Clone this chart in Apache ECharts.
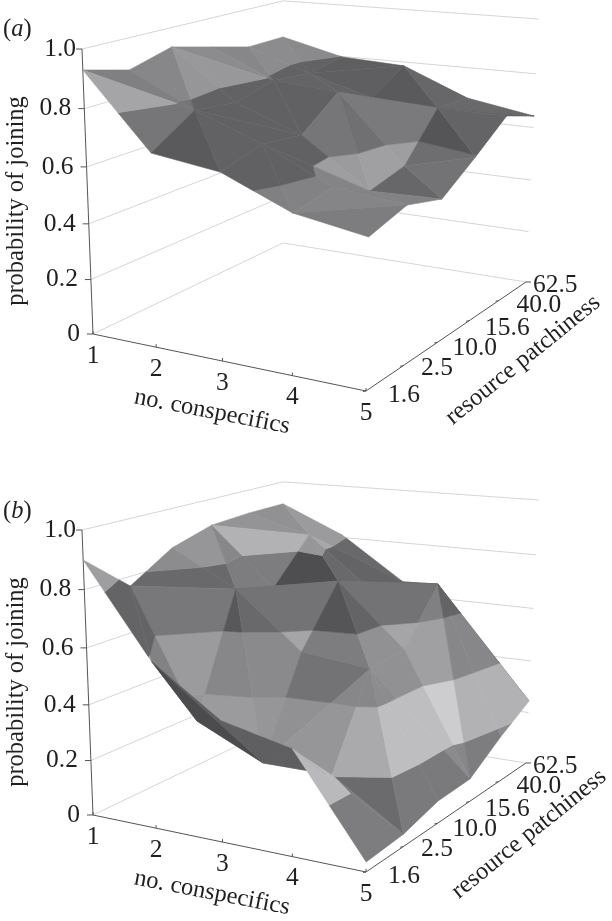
<!DOCTYPE html>
<html><head><meta charset="utf-8">
<style>html,body{margin:0;padding:0;background:#fff}#c{width:612px;height:921px}</style>
<script src="https://cdn.jsdelivr.net/npm/echarts@6/dist/echarts.min.js"></script>
</head><body><div id="c"></div>
<script>
const conspecifics = ['1','2','3','4','5'];
const patchiness = ['1.6','2.5','10.0','15.6','40.0','62.5'];
const probTicks = [0,0.2,0.4,0.6,0.8,1.0];
const probLabels = ['0','0.2','0.4','0.6','0.8','1.0'];
// joining probability: one row per no. conspecifics, one column per patchiness level
const joiningA = [
 [.93,.889,.931,.893,.855,.857],
 [.678,.775,.755,.79,.775,.798],
 [.646,.686,.666,.772,.705,.785],
 [.546,.572,.5,.532,.694,.685],
 [.506,.546,.506,.595,.691,.643]
];
const joiningB = [
 [.9,.766,.859,.903,.912,.913],
 [.584,.315,.735,.692,.849,.81],
 [.42,.204,.538,.743,.66,.649],
 [.365,.205,.51,.522,.712,.52],
 [.034,.044,.081,.085,.172,.245]
];
// cells whose split runs along the other diagonal
const flippedA = [[0,0],[1,0],[0,1],[1,1],[0,2],[1,2],[0,3],[3,2]];
const flippedB = [];
// facet greys: "cell i,j,triangle:band" -> grey
const shadeA = {
 '0,0,0:4':165,'0,0,0:3':118,'0,0,1:4':128,'0,0,1:3':118,
 '1,0,0:3':90,'1,0,1:3':98,
 '0,1,0:4':135,'0,1,1:4':150,'0,1,1:3':98,
 '1,1,0:3':97,'1,1,1:3':97,
 '0,2,0:4':152,'0,2,0:3':98,'0,2,1:4':140,
 '0,3,0:4':135,'0,3,1:4':140,'0,3,1:3':98,
 '0,4,0:4':140,'0,4,0:3':98,'0,4,1:4':138,'0,4,1:3':98,
 '1,3,0:3':100,'1,3,1:3':100,
 '1,4,0:3':95,'1,4,1:3':95,
 '1,2,0:3':97,'1,2,1:3':97,
 '2,4,0:3':90,'2,4,1:3':103,
 '2,3,0:3':122,'2,3,0:2':158,'2,3,1:3':98,
 '2,2,0:3':118,'2,2,0:2':155,'2,2,1:3':112,'2,2,1:2':160,
 '2,1,0:3':97,'2,1,0:2':132,'2,1,1:3':97,'2,1,1:2':158,
 '2,0,0:3':97,'2,0,0:2':128,'2,0,1:3':97,'2,0,1:2':130,
 '3,0,0:2':125,'3,0,1:2':133,
 '3,1,0:2':130,'3,1,1:2':130,
 '3,2,0:2':103,'3,2,0:3':103,'3,2,1:2':115,'3,2,1:3':115,
 '3,3,0:3':85,'3,3,0:2':110,'3,3,1:3':100,'3,3,1:2':110,
 '3,4,0:3':98,'3,4,1:3':105
};
const shadeB = {
 '0,0,0:4':158,'0,0,0:3':100,'0,0,1:3':100,'0,0,1:2':130,
 '0,1,0:3':120,'0,1,0:2':155,'0,1,0:1':150,'0,1,1:4':140,'0,1,1:3':105,
 '0,2,0:4':150,'0,2,0:3':105,'0,2,1:4':135,'0,2,1:3':125,
 '0,3,0:4':178,'0,3,0:3':125,'0,3,1:4':148,
 '0,4,0:4':145,'0,4,1:4':155,
 '1,0,0':95,'1,0,1':75,
 '1,1,0:3':88,'1,1,0:2':135,'1,1,0:1':155,'1,1,1:3':105,'1,1,1:2':138,'1,1,1:1':150,
 '1,2,0:3':115,'1,2,0:2':165,'1,2,1:3':112,
 '1,3,0:3':78,'1,3,0:4':150,'1,3,1:3':105,'1,3,1:4':150,
 '1,4,0:3':100,'1,4,1:4':155,'1,4,1:3':105,
 '2,1,0:2':135,'2,1,0:1':150,'2,1,0:0':105,'2,1,1:2':115,'2,1,1:1':145,'2,1,1:0':105,
 '2,2,0:3':85,'2,2,0:2':125,'2,2,1:3':100,'2,2,1:2':145,
 '2,3,0:3':115,'2,3,0:2':165,'2,3,1:3':105,
 '2,4,0:3':100,'2,4,1:3':105,
 '3,0,0:1':185,'3,0,0:0':125,'3,0,1:1':185,'3,0,1:0':125,
 '3,1,0:2':135,'3,1,0:1':170,'3,1,0:0':107,'3,1,1:2':140,'3,1,1:1':190,'3,1,1:0':122,
 '3,2,0:2':140,'3,2,0:1':190,'3,2,0:0':122,'3,2,1:2':145,'3,2,1:1':190,
 '3,3,0:3':128,'3,3,0:2':160,'3,3,0:1':205,'3,3,0:0':135,'3,3,1:3':100,'3,3,1:2':135,'3,3,1:1':178,'3,3,1:0':125,
 '3,4,0:3':100,'3,4,0:2':135,'3,4,0:1':178
};

const P0=[93,334],PU=[366,391],PV=[283,243],PW=[82,49];
const C=[-0.098,0.188,-0.055];
const A1=[PU[0]*(1+C[0])-P0[0],PU[1]*(1+C[0])-P0[1]];
const A2=[PV[0]*(1+C[1])-P0[0],PV[1]*(1+C[1])-P0[1]];
const A3=[PW[0]*(1+C[2])-P0[0],PW[1]*(1+C[2])-P0[1]];
function proj(u,v,w){
  const d=1+C[0]*u+C[1]*v+C[2]*w;
  return [(P0[0]+A1[0]*u+A2[0]*v+A3[0]*w)/d,(P0[1]+A1[1]*u+A2[1]*v+A3[1]*w)/d];
}
const BAND=0.2;
const bandMul=[1.0,1.45,1.3,1.05,1.35];
function clipBand(poly,lo,hi){
  function cut(ps,lim,keepAbove){
    const out=[];
    for(let k=0;k<ps.length;k++){
      const a=ps[k],b=ps[(k+1)%ps.length];
      const ia=keepAbove?a[2]>=lim:a[2]<=lim, ib=keepAbove?b[2]>=lim:b[2]<=lim;
      if(ia) out.push(a);
      if(ia!==ib){const t=(lim-a[2])/(b[2]-a[2]);out.push([a[0]+t*(b[0]-a[0]),a[1]+t*(b[1]-a[1]),lim]);}
    }
    return out;
  }
  return cut(cut(poly,lo,true),hi,false);
}
function shade(tri,band,fix){
  const [a,b,c]=tri;
  const ux=b[0]-a[0],uy=b[1]-a[1],uz=b[2]-a[2],vx=c[0]-a[0],vy=c[1]-a[1],vz=c[2]-a[2];
  let nx=uy*vz-uz*vy,ny=uz*vx-ux*vz,nz=ux*vy-uy*vx;
  const s=nz<0?-1:1;nx*=s;ny*=s;nz*=s;
  const len=Math.hypot(nx,ny,nz);nx/=len;ny/=len;nz/=len;
  const pa=proj(...a),pb=proj(...b),pc=proj(...c);
  const sc=(pb[0]-pa[0])*(pc[1]-pa[1])-(pb[1]-pa[1])*(pc[0]-pa[0]);
  const uvc=ux*vy-uy*vx;
  const under=(sc*uvc)>0;
  let g;
  if(fix!==undefined) g=fix;
  else if(under) g=95;
  else g=Math.max(78,60+80*nx+20*nz)*bandMul[band];
  g=Math.round(Math.min(208,g));
  return `rgb(${g},${g},${g+2})`;
}
function buildPieces(Z,flip,fixes){
  const out=[];
  for(let j=4;j>=0;j--)for(let i=0;i<4;i++){
    const p=(a,b)=>[a/4,b/5,Z[a][b]];
    const main=((i+j)%2===1)!==flip.some(f=>f[0]===i&&f[1]===j);
    const tris=main?[[p(i,j),p(i+1,j),p(i+1,j+1)],[p(i,j),p(i+1,j+1),p(i,j+1)]]
                   :[[p(i,j),p(i+1,j),p(i,j+1)],[p(i+1,j),p(i+1,j+1),p(i,j+1)]];
    const tagged=tris.map((t,k)=>({t,key:i+','+j+','+k}));
    const depth=t=>t[0][0]+t[1][0]+t[2][0]-t[0][1]-t[1][1]-t[2][1];
    tagged.sort((s,r)=>depth(s.t)-depth(r.t));
    for(const o of tagged)for(let b=0;b<5;b++){
      const poly=clipBand(o.t,b*BAND,(b+1)*BAND);
      const fix=fixes[o.key+':'+b]!==undefined?fixes[o.key+':'+b]:fixes[o.key];
      if(poly.length>=3) out.push({poly,color:shade(o.t,b,fix)});
    }
  }
  return out;
}
const SERIF='"Liberation Serif","Times New Roman",serif';
const FS=24.5,TFS=25.5;
const GRID='#d6d6d6',AX='#555558',TXT='#231f20';
function lines(){
  const grid=[],ax=[];
  for(const t of probTicks){grid.push([[0,0,t],[0,1,t],[1,1,t]]);}
  ax.push([[0,0,0],[0,0,1]]);ax.push([[0,0,0],[1,0,0]]);ax.push([[1,0,0],[1,1,0]]);
  return {grid,ax};
}
const L=lines();
function surfaceSeries(Z,flip,fixes,idx){
  const pieces=buildPieces(Z,flip,fixes);
  return {type:'custom',coordinateSystem:'cartesian2d',xAxisIndex:idx,yAxisIndex:idx,z:3,clip:false,silent:true,animation:false,
    data:pieces.map((_,k)=>[k]),
    renderItem(params,api){
      const pc=pieces[api.value(0)];
      return {type:'polygon',shape:{points:pc.poly.map(q=>api.coord(proj(...q)))},
        style:{fill:pc.color,stroke:pc.color,lineWidth:0.6}};
    }};
}
function frameSeries(idx){
  const items=[];
  L.grid.forEach(g=>items.push({pts:g,c:GRID}));
  L.ax.forEach(g=>items.push({pts:g,c:AX}));
  return {type:'custom',coordinateSystem:'cartesian2d',xAxisIndex:idx,yAxisIndex:idx,z:2,clip:false,silent:true,animation:false,
    data:items.map((_,k)=>[k]),
    renderItem(params,api){
      const it=items[api.value(0)];
      return {type:'polyline',shape:{points:it.pts.map(q=>api.coord(proj(...q)))},
        style:{fill:null,stroke:it.c,lineWidth:1}};
    }};
}
function tickSeries(idx){
  const items=[];
  probTicks.forEach(t=>items.push({q:[0,0,t],d:[-6,0]}));
  conspecifics.forEach((_,i)=>items.push({q:[i/4,0,0],d:[0,-3]}));
  patchiness.forEach((_,j)=>items.push({q:[1,j/5,0],d:j===5?[5,0]:[-3,0.5]}));
  return {type:'custom',coordinateSystem:'cartesian2d',xAxisIndex:idx,yAxisIndex:idx,z:4,clip:false,silent:true,animation:false,
    data:items.map((_,k)=>[k]),
    renderItem(params,api){
      const it=items[api.value(0)];
      const p=proj(...it.q);
      return {type:'polyline',shape:{points:[api.coord(p),api.coord([p[0]+it.d[0],p[1]+it.d[1]])]},
        style:{fill:null,stroke:AX,lineWidth:1}};
    }};
}
const rOff=[[22,4],[18,3],[15,6],[16,8],[18,5],[7,3]];
function textSeries(idx,panelLetter,labelDy,rt){
  const items=[];
  probTicks.forEach((t,k)=>{const p=proj(0,0,t);items.push({x:p[0]-(k===5?6:13),y:p[1],t:probLabels[k],al:'right',fs:TFS});});
  conspecifics.forEach((c,i)=>{const p=proj(i/4,0,0);items.push({x:p[0],y:p[1]+22,t:c,al:'center',fs:TFS});});
  patchiness.forEach((r,j)=>{const p=proj(1,j/5,0);items.push({x:p[0]+rOff[j][0],y:p[1]+rOff[j][1],t:r,al:'left',fs:TFS});});
  items.push({x:17,y:201,t:'probability of joining',al:'center',rot:Math.PI/2});
  items.push({x:212,y:412,t:'no. conspecifics',al:'center',rot:-11*Math.PI/180});
  items.push({x:rt[0],y:rt[1],t:'resource patchiness',al:'center',rot:39*Math.PI/180});
  items.push({x:3,y:labelDy,t:'({i|'+panelLetter+'})',al:'left',rich:true});
  return {type:'custom',coordinateSystem:'cartesian2d',xAxisIndex:idx,yAxisIndex:idx,z:5,clip:false,silent:true,animation:false,
    data:items.map((_,k)=>[k]),
    renderItem(params,api){
      const it=items[api.value(0)];
      const c=api.coord([it.x,it.y]);
      const size=it.fs||FS;
      const style={text:it.t,fontSize:size,fontFamily:SERIF,fill:TXT,align:it.al,verticalAlign:'middle'};
      if(it.rich) style.rich={i:{fontStyle:'italic',fontSize:size,fontFamily:SERIF,fill:TXT}};
      return {type:'text',x:c[0],y:c[1],rotation:it.rot||0,style};
    }};
}
const mkX=i=>({type:'value',gridIndex:i,min:0,max:612,show:false});
const mkY=i=>({type:'value',gridIndex:i,min:0,max:440,inverse:true,show:false});
const chart=echarts.init(document.getElementById('c'),null,{renderer:'canvas'});
chart.setOption({
  animation:false,backgroundColor:'#fff',
  grid:[{left:0,top:0,width:612,height:440},{left:0,top:481,width:612,height:440}],
  xAxis:[mkX(0),mkX(1)],yAxis:[mkY(0),mkY(1)],
  series:[
    frameSeries(0),surfaceSeries(joiningA,flippedA,shadeA,0),tickSeries(0),textSeries(0,'a',30,[523,360]),
    frameSeries(1),surfaceSeries(joiningB,flippedB,shadeB,1),tickSeries(1),textSeries(1,'b',31,[529,353])
  ]
});
</script></body></html>
